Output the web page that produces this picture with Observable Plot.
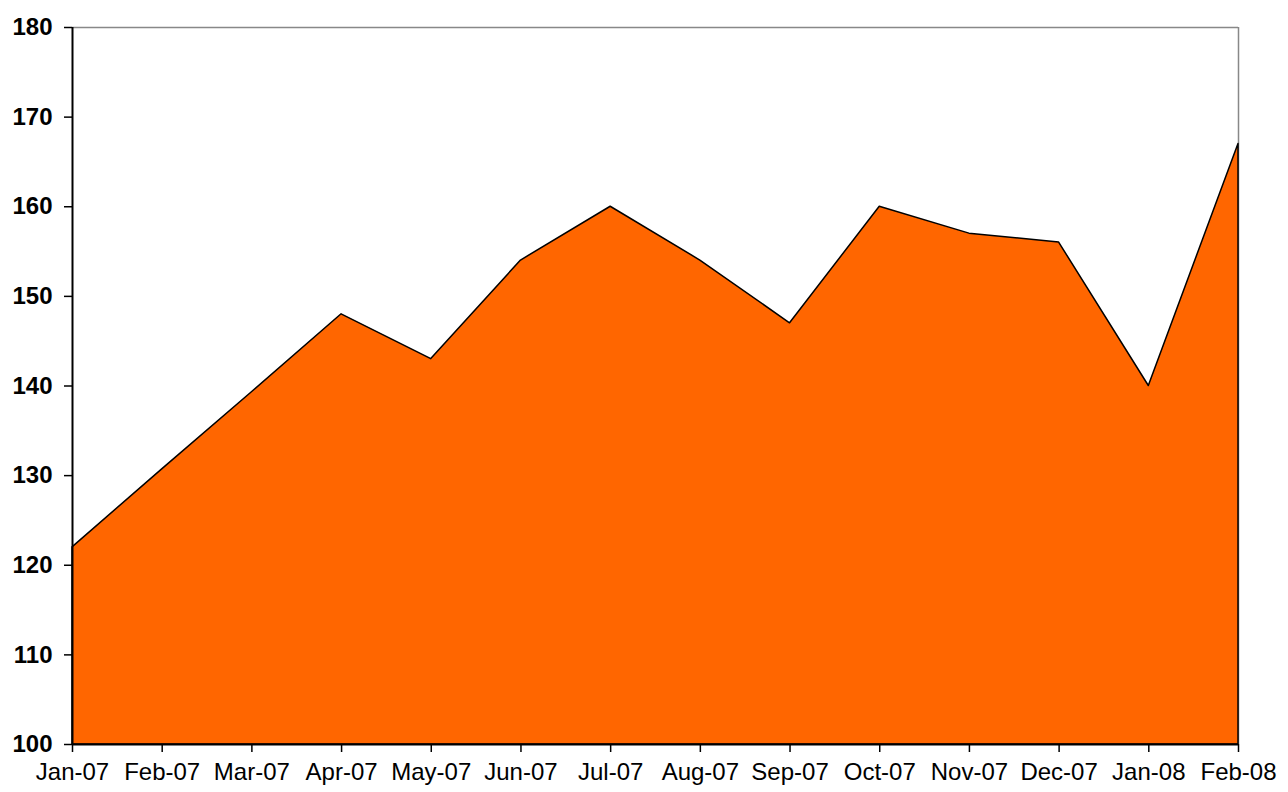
<!DOCTYPE html>
<html>
<head>
<meta charset="utf-8">
<script src="https://cdn.jsdelivr.net/npm/d3@7"></script>
<script src="https://cdn.jsdelivr.net/npm/@observablehq/plot@0.6"></script>
<style>
  html, body { margin: 0; padding: 0; background: #fff; }
  #chart svg { display: block; }
</style>
</head>
<body>
<div id="chart"></div>
<script>
const months = ["Jan-07","Feb-07","Mar-07","Apr-07","May-07","Jun-07","Jul-07","Aug-07","Sep-07","Oct-07","Nov-07","Dec-07","Jan-08","Feb-08"];
const values = [122, 130.7, 139.3, 148, 143, 154, 160, 154, 147, 160, 157, 156, 140, 167];
const yTicks = [100, 110, 120, 130, 140, 150, 160, 170, 180];

const data = months.map((m, i) => ({month: m, value: values[i]}));

const chart = Plot.plot({
  width: 1288,
  height: 792,
  marginLeft: 72,
  marginRight: 50,
  marginTop: 27,
  marginBottom: 48,
  style: {fontFamily: "Liberation Sans, Arial, sans-serif", color: "#000", background: "#fff"},
  x: {type: "point", domain: months, padding: 0, round: false, label: null},
  y: {domain: [100, 180], label: null},
  marks: [
    Plot.ruleY([180], {stroke: "#888", strokeWidth: 1.5}),
    Plot.ruleX([months[months.length - 1]], {stroke: "#888", strokeWidth: 1.5}),
    Plot.areaY(data, {x: "month", y: "value", y1: 100, fill: "#FF6600", stroke: "#000", strokeWidth: 1.5, curve: "linear"}),
    Plot.ruleX([months[0]], {stroke: "#000", strokeWidth: 2}),
    Plot.ruleY([100], {stroke: "#000", strokeWidth: 2}),
    Plot.axisY({ticks: yTicks, label: null, tickSize: 8, tickPadding: 12, fontSize: 24, fontWeight: "bold", stroke: "#000", strokeWidth: 1.5, tickFormat: d => String(d)}),
    Plot.axisX({label: null, tickSize: 8, tickPadding: 10, fontSize: 24, stroke: "#000", strokeWidth: 1.5})
  ]
});
document.getElementById("chart").appendChild(chart);
</script>
</body>
</html>
